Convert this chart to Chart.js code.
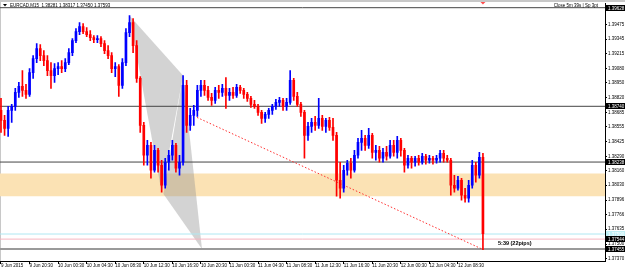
<!DOCTYPE html>
<html>
<head>
<meta charset="utf-8">
<script src="https://cdn.jsdelivr.net/npm/chart.js@4.4.1/dist/chart.umd.min.js"></script>
<style>
  html, body { margin: 0; padding: 0; background: #fff; }
  #wrap { width: 625px; height: 269px; }
</style>
</head>
<body>
<div id="wrap"><canvas id="chart"></canvas></div>
<script>
/* EURCAD, drawn as 30 minute candles from 9 Jun 16:30 to 12 Jun 10:00 */
const opens = [
  1.38703, 1.38613, 1.38541, 1.38703, 1.38739, 1.38865, 1.38919, 1.38883, 1.38847, 1.39044,
  1.39170, 1.39260, 1.39197, 1.39152, 1.39062, 1.39017, 1.39080, 1.39098, 1.39080, 1.39134,
  1.39224, 1.39332, 1.39413, 1.39458, 1.39413, 1.39386, 1.39359, 1.39341, 1.39350, 1.39305,
  1.39242, 1.39197, 1.39080, 1.39098, 1.38928, 1.39134, 1.39404, 1.39493, 1.39287, 1.38991,
  1.38568, 1.38299, 1.38388, 1.38164, 1.38343, 1.38209, 1.38029, 1.38236, 1.38299, 1.38388,
  1.38182, 1.38236, 1.38928, 1.38568, 1.38658, 1.38703, 1.38883, 1.38928, 1.38883, 1.38820,
  1.38793, 1.38883, 1.38865, 1.38901, 1.38838, 1.38865, 1.38838, 1.38910, 1.38883, 1.38847,
  1.38811, 1.38757, 1.38739, 1.38685, 1.38631, 1.38667, 1.38703, 1.38739, 1.38775, 1.38793,
  1.38739, 1.38775, 1.38973, 1.38829, 1.38757, 1.38685, 1.38478, 1.38559, 1.38595, 1.38568,
  1.38631, 1.38559, 1.38613, 1.38550, 1.38478, 1.38074, 1.38002, 1.38164, 1.38227, 1.38164,
  1.38299, 1.38415, 1.38451, 1.38388, 1.38478, 1.38325, 1.38343, 1.38272, 1.38325, 1.38290,
  1.38388, 1.38325, 1.38433, 1.38343, 1.38209, 1.38272, 1.38236, 1.38272, 1.38236, 1.38290,
  1.38254, 1.38272, 1.38254, 1.38272, 1.38317, 1.38272, 1.38254, 1.38029, 1.38002, 1.38074,
  1.37939, 1.37912, 1.38029, 1.38209, 1.38119, 1.38281
];
const highs = [
  1.38811, 1.38658, 1.38739, 1.38757, 1.38901, 1.38955, 1.39062, 1.38937, 1.39080, 1.39197,
  1.39305, 1.39296, 1.39242, 1.39197, 1.39134, 1.39125, 1.39134, 1.39152, 1.39170, 1.39260,
  1.39350, 1.39440, 1.39493, 1.39485, 1.39449, 1.39422, 1.39377, 1.39377, 1.39368, 1.39332,
  1.39287, 1.39224, 1.39134, 1.39116, 1.39170, 1.39440, 1.39556, 1.39529, 1.39332, 1.39008,
  1.38595, 1.38433, 1.38415, 1.38388, 1.38361, 1.38254, 1.38272, 1.38343, 1.38433, 1.38406,
  1.38299, 1.39017, 1.38973, 1.38721, 1.38748, 1.38928, 1.38973, 1.38973, 1.38919, 1.38856,
  1.38910, 1.38928, 1.38937, 1.38999, 1.38901, 1.38910, 1.38937, 1.38928, 1.38901, 1.38865,
  1.38829, 1.38793, 1.38757, 1.38703, 1.38685, 1.38721, 1.38757, 1.38802, 1.38820, 1.38811,
  1.38811, 1.39062, 1.38991, 1.38865, 1.38775, 1.38703, 1.38595, 1.38631, 1.38649, 1.38811,
  1.38658, 1.38631, 1.38640, 1.38631, 1.38505, 1.38236, 1.38209, 1.38254, 1.38272, 1.38343,
  1.38451, 1.38523, 1.38478, 1.38541, 1.38496, 1.38388, 1.38379, 1.38361, 1.38379, 1.38433,
  1.38433, 1.38469, 1.38451, 1.38361, 1.38299, 1.38290, 1.38290, 1.38299, 1.38317, 1.38308,
  1.38299, 1.38290, 1.38299, 1.38343, 1.38343, 1.38299, 1.38272, 1.38119, 1.38110, 1.38092,
  1.38002, 1.38074, 1.38254, 1.38236, 1.38325, 1.38317
];
const lows = [
  1.38505, 1.38478, 1.38469, 1.38595, 1.38703, 1.38820, 1.38829, 1.38811, 1.38829, 1.38991,
  1.39134, 1.39152, 1.39107, 1.39017, 1.38901, 1.38955, 1.39026, 1.39044, 1.39053, 1.39116,
  1.39197, 1.39314, 1.39386, 1.39395, 1.39368, 1.39332, 1.39314, 1.39314, 1.39278, 1.39215,
  1.39170, 1.39044, 1.39008, 1.38829, 1.38901, 1.39107, 1.39368, 1.39224, 1.38955, 1.38505,
  1.38209, 1.38209, 1.38092, 1.38146, 1.38146, 1.37966, 1.38002, 1.38164, 1.38254, 1.38146,
  1.38119, 1.38209, 1.38505, 1.38523, 1.38568, 1.38649, 1.38829, 1.38838, 1.38793, 1.38748,
  1.38766, 1.38811, 1.38829, 1.38721, 1.38793, 1.38811, 1.38820, 1.38856, 1.38811, 1.38784,
  1.38730, 1.38721, 1.38658, 1.38586, 1.38595, 1.38631, 1.38667, 1.38712, 1.38739, 1.38703,
  1.38703, 1.38757, 1.38793, 1.38739, 1.38649, 1.38272, 1.38433, 1.38505, 1.38523, 1.38541,
  1.38523, 1.38505, 1.38523, 1.38433, 1.37930, 1.37912, 1.37966, 1.38119, 1.38092, 1.38146,
  1.38272, 1.38343, 1.38343, 1.38361, 1.38272, 1.38254, 1.38236, 1.38236, 1.38254, 1.38272,
  1.38290, 1.38272, 1.38290, 1.38146, 1.38182, 1.38182, 1.38200, 1.38209, 1.38218, 1.38218,
  1.38227, 1.38218, 1.38227, 1.38236, 1.38236, 1.38236, 1.37939, 1.37966, 1.37984, 1.37894,
  1.37876, 1.37876, 1.38002, 1.38056, 1.38092, 1.37450
];
const closes = [
  1.38613, 1.38541, 1.38703, 1.38739, 1.38865, 1.38919, 1.38883, 1.38847, 1.39044, 1.39170,
  1.39260, 1.39197, 1.39152, 1.39062, 1.39017, 1.39080, 1.39098, 1.39080, 1.39134, 1.39224,
  1.39332, 1.39413, 1.39458, 1.39413, 1.39386, 1.39359, 1.39341, 1.39350, 1.39305, 1.39242,
  1.39197, 1.39080, 1.39098, 1.38928, 1.39134, 1.39404, 1.39493, 1.39287, 1.38991, 1.38568,
  1.38299, 1.38388, 1.38164, 1.38343, 1.38209, 1.38029, 1.38236, 1.38299, 1.38388, 1.38182,
  1.38236, 1.38928, 1.38568, 1.38658, 1.38703, 1.38883, 1.38928, 1.38883, 1.38820, 1.38793,
  1.38883, 1.38865, 1.38901, 1.38838, 1.38865, 1.38838, 1.38910, 1.38883, 1.38847, 1.38811,
  1.38757, 1.38739, 1.38685, 1.38631, 1.38667, 1.38703, 1.38739, 1.38775, 1.38793, 1.38739,
  1.38775, 1.38973, 1.38829, 1.38757, 1.38685, 1.38478, 1.38559, 1.38595, 1.38568, 1.38631,
  1.38559, 1.38613, 1.38550, 1.38478, 1.38074, 1.38002, 1.38164, 1.38227, 1.38164, 1.38299,
  1.38415, 1.38451, 1.38388, 1.38478, 1.38325, 1.38343, 1.38272, 1.38325, 1.38290, 1.38388,
  1.38325, 1.38433, 1.38343, 1.38209, 1.38272, 1.38236, 1.38272, 1.38236, 1.38290, 1.38254,
  1.38272, 1.38254, 1.38272, 1.38317, 1.38272, 1.38254, 1.38029, 1.38002, 1.38074, 1.37939,
  1.37912, 1.38029, 1.38209, 1.38119, 1.38281, 1.37593
];

/* axis labels, one every 8 bars (4 hours) */
const timeLabels = ['9 Jun 2015', '9 Jun 20:30', '10 Jun 00:30', '10 Jun 04:30', '10 Jun 08:30',
  '10 Jun 12:30', '10 Jun 16:30', '10 Jun 20:30', '11 Jun 00:30', '11 Jun 04:30', '11 Jun 08:30',
  '11 Jun 12:30', '11 Jun 16:30', '11 Jun 20:30', '12 Jun 00:30', '12 Jun 04:30', '12 Jun 08:30'];
const priceTicks = [1.39475, 1.39345, 1.39215, 1.39080, 1.38950, 1.38820, 1.38685, 1.38555,
  1.38425, 1.38290, 1.38160, 1.38030, 1.37896, 1.37766, 1.37635, 1.37500, 1.37370];

/* drawn objects */
const levelLines = [1.39628, 1.38740, 1.38238];
const zone = [1.37930, 1.38136];
const cyanLine = 1.37590;
const pinkLine = 1.37544;
const lowLine = 1.37455;
const trendLine = [[54.9, 1.38640], [134.7, 1.37455]];
const triangleXAB = [[36, 1.39556], [45, 1.37966], [51, 1.39017]];
const triangleABD = [[51, 1.39017], [45.5, 1.37950], [56.3, 1.37455]];

const header = 'EURCAD,M15  1.38281 1.38317 1.37450 1.37593';
const timerText = 'Close 5m 39s | Sp 3pt';
const rangeText = '5:39 (22pips)';

const xMin = -0.28, xMax = 169.19;
const yMin = 1.37347, yMax = 1.39664;
const BULL = '#0000ff', BEAR = '#ff0000';

const candleColors = closes.map((c, i) => c >= opens[i] ? BULL : BEAR);

function hline(v, color, width, order) {
  return {
    type: 'line',
    data: [{x: xMin, y: v}, {x: xMax, y: v}],
    borderColor: color,
    borderWidth: width,
    pointRadius: 0,
    order: order
  };
}

function shape(points, color) {
  const pts = points.map(p => ({x: p[0], y: p[1]}));
  pts.push(pts[0]);
  return {
    type: 'line',
    data: pts,
    borderWidth: 0,
    borderColor: 'rgba(0,0,0,0)',
    backgroundColor: color,
    fill: 'shape',
    pointRadius: 0,
    order: 5
  };
}

const priceBoxes = [
  {v: levelLines[0], bg: '#000', fg: '#fff'},
  {v: levelLines[1], bg: '#000', fg: '#fff'},
  {v: levelLines[2], bg: '#000', fg: '#fff'},
  {v: cyanLine, bg: '#bfeff5', fg: '#fff'},
  {v: pinkLine, bg: '#000', fg: '#fff'},
  {v: lowLine, bg: '#000', fg: '#fff'}
];

const decor = {
  id: 'decor',
  beforeDraw(chart) {
    const ctx = chart.ctx;
    ctx.save();
    ctx.fillStyle = '#fff';
    ctx.fillRect(0, 0, chart.width, chart.height);
    ctx.fillStyle = '#c8c8c8';
    ctx.fillRect(0, 0, chart.width, 2);
    ctx.fillRect(0, 0, 1, chart.chartArea.bottom);
    ctx.restore();
  },
  afterDraw(chart) {
    const ctx = chart.ctx, y = chart.scales.y, x = chart.scales.x, area = chart.chartArea;
    ctx.save();
    ctx.font = '4.5px "Liberation Sans"';
    ctx.textBaseline = 'middle';
    ctx.textAlign = 'left';
    priceBoxes.forEach(b => {
      const py = Math.round(y.getPixelForValue(b.v));
      ctx.fillStyle = b.bg;
      ctx.fillRect(area.right + 1, py - 3, chart.width - area.right - 1, 6);
      ctx.fillStyle = b.fg;
      ctx.fillText(b.v.toFixed(5), area.right + 3, py + 0.5);
    });

    // header
    ctx.fillStyle = '#000';
    ctx.beginPath();
    ctx.moveTo(3, 4); ctx.lineTo(7, 4); ctx.lineTo(5, 6.5); ctx.closePath();
    ctx.fill();
    ctx.fillText(header, 10, 5.5);

    ctx.textAlign = 'right';
    ctx.fillText(timerText, 598, 6);

    ctx.textAlign = 'left';
    ctx.font = 'bold 5.5px "Liberation Sans"';
    ctx.fillText(rangeText, 498, 243.5);

    // shift marker over the last bar
    const mx = x.getPixelForValue(closes.length - 1);
    ctx.fillStyle = '#ff5050';
    ctx.beginPath();
    ctx.moveTo(mx - 2.5, 2); ctx.lineTo(mx + 2.5, 2); ctx.lineTo(mx, 4.5); ctx.closePath();
    ctx.fill();
    ctx.restore();
  }
};

const datasets = [
  {
    type: 'bar',
    data: opens.map((o, i) => ({x: i, y: [o, closes[i]]})),
    backgroundColor: candleColors,
    barThickness: 2,
    minBarLength: 1,
    grouped: false,
    order: 0
  },
  {
    type: 'bar',
    data: lows.map((l, i) => ({x: i, y: [l, highs[i]]})),
    backgroundColor: candleColors,
    barThickness: 1,
    grouped: false,
    order: 1
  },
  shape(triangleXAB, 'rgba(150,150,150,0.42)'),
  shape(triangleABD, 'rgba(150,150,150,0.42)'),
  {
    type: 'line',
    data: trendLine.map(p => ({x: p[0], y: p[1]})),
    borderColor: '#ff3030',
    borderWidth: 1,
    borderDash: [1.5, 2],
    pointRadius: 0,
    order: 2
  },
  hline(levelLines[0], '#444', 1, 3),
  hline(levelLines[1], '#444', 1, 3),
  hline(levelLines[2], '#444', 1, 3),
  hline(cyanLine, '#aee8f2', 1, 3),
  hline(pinkLine, '#f5b5c0', 1, 3),
  hline(lowLine, '#9a9a9a', 2, 3),
  Object.assign(hline(zone[0], 'rgba(0,0,0,0)', 0, 10), {}),
  Object.assign(hline(zone[1], 'rgba(0,0,0,0)', 0, 10), {fill: '-1', backgroundColor: '#fbe2b4'})
];

new Chart(document.getElementById('chart'), {
  type: 'bar',
  data: {datasets: datasets},
  plugins: [decor],
  options: {
    responsive: true,
    maintainAspectRatio: false,
    animation: false,
    layout: {padding: {left: 0, top: 3, right: 0, bottom: 0}},
    plugins: {legend: {display: false}, tooltip: {enabled: false}},
    scales: {
      x: {
        type: 'linear',
        min: xMin,
        max: xMax,
        offset: false,
        afterBuildTicks: s => { s.ticks = timeLabels.map((t, k) => ({value: k * 8})); },
        afterFit: s => { s.height = 8; },
        grid: {drawOnChartArea: false, offset: false, tickLength: 3, color: '#000'},
        border: {color: '#000'},
        ticks: {
          autoSkip: false,
          maxRotation: 0,
          align: 'start',
          padding: -1,
          color: '#000',
          font: {family: 'Liberation Sans', size: 4.5},
          callback: v => timeLabels[Math.round(v / 8)]
        }
      },
      y: {
        position: 'right',
        min: yMin,
        max: yMax,
        beginAtZero: false,
        afterBuildTicks: s => { s.ticks = priceTicks.map(v => ({value: v})); },
        afterFit: s => { s.width = 20; },
        grid: {drawOnChartArea: false, tickLength: 2, color: '#000'},
        border: {color: '#000'},
        ticks: {
          padding: 1,
          color: '#000',
          font: {family: 'Liberation Sans', size: 4.5},
          callback: v => v.toFixed(5)
        }
      }
    }
  }
});
</script>
</body>
</html>
